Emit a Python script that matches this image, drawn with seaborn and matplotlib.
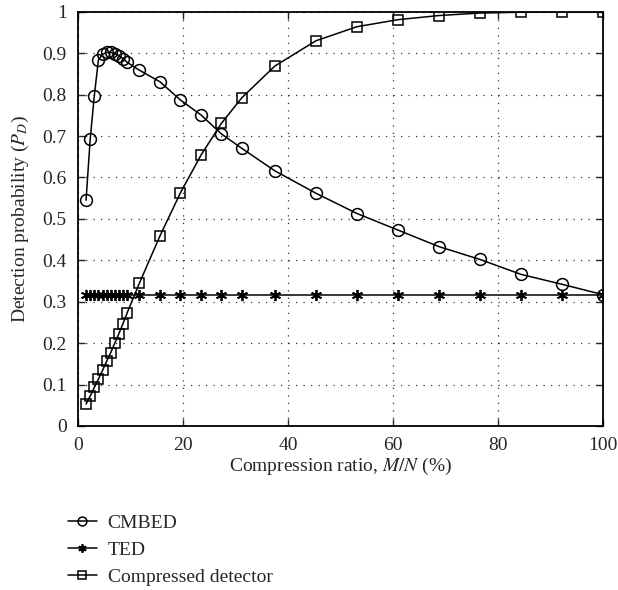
import matplotlib
matplotlib.use("Agg")
import matplotlib.pyplot as plt
import seaborn as sns
import pandas as pd

# Data (compression ratio M/N in %)
ratio = [1.56, 2.34, 3.13, 3.91, 4.69, 5.47, 6.25, 7.03, 7.81, 8.59, 9.38,
         11.72, 15.63, 19.53, 23.44, 27.34, 31.25, 37.5, 45.31, 53.13,
         60.94, 68.75, 76.56, 84.38, 92.19, 100.0]
cmbed = [0.545, 0.692, 0.797, 0.884, 0.897, 0.902, 0.902, 0.899, 0.894, 0.887, 0.878,
         0.859, 0.831, 0.787, 0.751, 0.705, 0.670, 0.616, 0.562, 0.513,
         0.473, 0.433, 0.402, 0.366, 0.342, 0.317]
ted = [0.317] * len(ratio)
compressed = [0.053, 0.072, 0.093, 0.113, 0.134, 0.156, 0.177, 0.200, 0.223, 0.247, 0.273,
              0.345, 0.459, 0.563, 0.654, 0.731, 0.793, 0.869, 0.930, 0.964,
              0.981, 0.991, 0.997, 0.999, 1.0, 1.0]
series_names = ["CMBED", "TED", "Compressed detector"]
xticks = [0, 20, 40, 60, 80, 100]
yticks = [0, 0.1, 0.2, 0.3, 0.4, 0.5, 0.6, 0.7, 0.8, 0.9, 1]
ytick_labels = ["0", "0.1", "0.2", "0.3", "0.4", "0.5", "0.6", "0.7", "0.8", "0.9", "1"]

sns.set_style("ticks")
plt.rcParams["font.family"] = ["Liberation Serif", "DejaVu Serif"]
plt.rcParams["mathtext.fontset"] = "stix"

fig = plt.figure(figsize=(6.18, 5.90), dpi=100)
ax = fig.add_axes([0.126, 0.278, 0.850, 0.702])

df = pd.DataFrame({"ratio": ratio, "CMBED": cmbed, "TED": ted, "Compressed detector": compressed})

styles = {
    "CMBED": dict(marker="o", markersize=8.5),
    "TED": dict(marker=(6, 2, 0), markersize=8),
    "Compressed detector": dict(marker="s", markersize=6.8),
}
for name in series_names:
    st = styles[name]
    sns.lineplot(data=df, x="ratio", y=name, ax=ax, color="black", linewidth=1.1,
                 marker=st["marker"], markersize=st["markersize"],
                 markerfacecolor="none",
                 markeredgecolor="black", markeredgewidth=1.3 if name == "TED" else 1.1,
                 errorbar=None, label=name, legend=False)

ax.set_xlim(0, 100)
ax.set_ylim(0, 1)
ax.set_xticks(xticks)
ax.set_xticklabels([str(t) for t in xticks])
ax.set_yticks(yticks)
ax.set_yticklabels(ytick_labels)
ax.tick_params(direction="in", top=True, right=True, labelsize=14, length=5, width=1, pad=8)
ax.grid(True, linestyle=(0, (1, 5)), color="black", linewidth=0.9, alpha=0.8)
for sp in ax.spines.values():
    sp.set_linewidth(1.3)
    sp.set_color("black")

ax.set_xlabel("Compression ratio, $M/N$ (%)", fontsize=14, labelpad=1)
ax.set_ylabel("Detection probability ($P_D$)", fontsize=14, labelpad=8)

handles, labels = ax.get_legend_handles_labels()
fig.legend(handles, labels, loc="upper left", bbox_to_anchor=(0.097, 0.141),
           frameon=False, fontsize=14, markerscale=0.75, handlelength=1.5,
           handletextpad=0.55, labelspacing=0.48, borderaxespad=0)

fig.savefig("out.png", dpi=100)
